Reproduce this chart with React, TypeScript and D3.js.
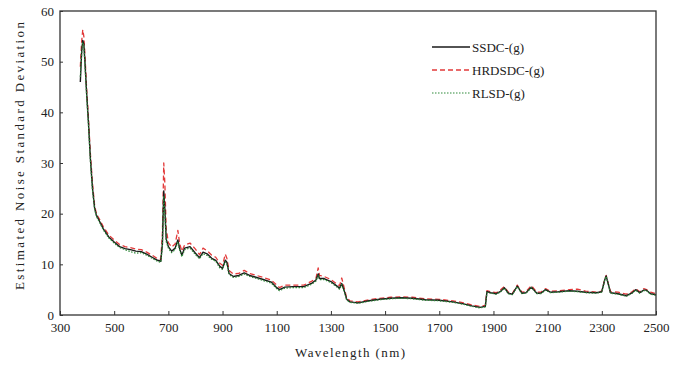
import React, { useEffect, useRef } from 'react';
import * as d3 from 'd3';

// wavelength (nm) sample points, shared by all three series
const wavelengths = [
  375, 380, 384, 388, 392, 398, 405, 412, 420, 428,
  435, 445, 460, 480, 500, 520, 540, 560, 580, 600,
  620, 640, 660, 672, 678, 683, 687, 692, 700, 712,
  725, 735, 742, 750, 760, 780, 800, 815, 828, 845,
  860, 875, 890, 900, 910, 916, 924, 940, 960, 980,
  1000, 1020, 1050, 1080, 1100, 1110, 1130, 1160, 1200, 1230,
  1245, 1253, 1258, 1275, 1300, 1320, 1332, 1340, 1348, 1358,
  1370, 1400, 1440, 1480, 1520, 1560, 1600, 1650, 1700, 1750,
  1790, 1820, 1850, 1870, 1876, 1890, 1910, 1925, 1940, 1955,
  1970, 1988, 2005, 2020, 2040, 2060, 2075, 2092, 2110, 2140,
  2180, 2210, 2240, 2280, 2300, 2310, 2316, 2322, 2332, 2360,
  2390, 2410, 2425, 2440, 2455, 2465, 2480, 2500,
];

const ssdc = [
  46, 52, 54.2, 53.5, 50, 44, 38, 31, 25, 21,
  19.6, 18.6, 17, 15.4, 14.4, 13.5, 13.1, 12.9, 12.6, 12.5,
  12, 11.4, 10.8, 10.6, 14, 24.5, 21, 15, 13.5, 12.6,
  13.2, 14.8, 13, 11.8, 13.2, 13.5, 12.2, 11.3, 12.4, 12,
  11.2, 10.8, 9.6, 9.2, 10.8, 10.4, 8.2, 7.6, 7.8, 8.3,
  7.8, 7.5, 7, 6.5, 5.4, 5, 5.5, 5.6, 5.6, 6.3,
  6.9, 8.1, 7.2, 7.2, 6.6, 5.8, 5.3, 6.2, 5, 3.1,
  2.6, 2.4, 2.8, 3.1, 3.3, 3.4, 3.3, 3, 2.9, 2.6,
  2.2, 1.8, 1.5, 1.7, 4.6, 4.4, 4.2, 4.6, 5.4, 4.3,
  4.1, 5.7, 4.3, 4.4, 5.5, 4.3, 4.3, 5, 4.5, 4.6,
  4.8, 4.7, 4.5, 4.4, 4.6, 6.8, 7.7, 6.5, 4.4, 4.2,
  3.8, 4.3, 5, 4.4, 4.9, 4.9, 4.2, 4,
];

const hrdsdc = [
  49, 54, 56.3, 55, 51.5, 45, 39, 32, 26, 21.5,
  19.9, 19, 17.4, 15.8, 14.8, 13.9, 13.5, 13.3, 13, 12.9,
  12.4, 11.8, 11.1, 11, 16, 30, 26, 17, 14.3, 13.4,
  14, 16.7, 14, 12.6, 13.8, 14.2, 13, 11.9, 13.2, 12.6,
  11.8, 11.4, 10.2, 9.8, 12, 11.2, 8.8, 8.1, 8.2, 8.8,
  8.2, 7.9, 7.4, 6.9, 5.9, 5.4, 5.9, 5.9, 5.9, 6.7,
  7.3, 9.3, 7.8, 7.6, 7, 6.2, 5.8, 7.3, 5.6, 3.4,
  2.8, 2.6, 3, 3.3, 3.5, 3.6, 3.5, 3.2, 3.1, 2.8,
  2.4, 2, 1.7, 1.9, 4.8, 4.6, 4.4, 4.9, 5.6, 4.5,
  4.3, 5.9, 4.5, 4.6, 5.8, 4.5, 4.5, 5.2, 4.7, 4.8,
  5, 5.1, 4.7, 4.5, 4.7, 6.9, 7.8, 6.6, 4.6, 4.5,
  4.1, 4.5, 5.2, 4.6, 5.2, 5, 4.5, 4.2,
];

const rlsd = [
  47, 51.5, 53.8, 53, 49.5, 43.5, 37.5, 30.5, 24.5, 20.8,
  19.4, 18.4, 16.8, 15.2, 14.2, 13.3, 12.9, 12.5, 12.2, 12.3,
  11.8, 11.2, 10.6, 10.4, 13.5, 23.5, 20, 14.5, 13.2, 12.3,
  12.9, 14.4, 12.7, 11.5, 12.9, 13.2, 11.9, 11.1, 12.1, 11.7,
  11, 10.6, 9.3, 9, 10.5, 10.1, 8, 7.4, 7.6, 8.1,
  7.6, 7.3, 6.8, 6.3, 5.2, 4.8, 5.3, 5.4, 5.4, 6.1,
  6.7, 7.8, 7, 7, 6.4, 5.6, 5.1, 6, 4.8, 3,
  2.5, 2.3, 2.7, 3, 3.2, 3.3, 3.2, 2.9, 2.8, 2.5,
  2.1, 1.7, 1.4, 1.6, 4.4, 4.3, 4.1, 4.5, 5.3, 4.2,
  4, 5.6, 4.2, 4.3, 5.4, 4.2, 4.2, 4.9, 4.4, 4.5,
  4.7, 4.6, 4.4, 4.3, 4.5, 6.7, 7.6, 6.4, 4.3, 4.1,
  3.7, 4.2, 4.9, 4.3, 4.8, 4.8, 4.1, 3.9,
];

const xTicks = [300, 500, 700, 900, 1100, 1300, 1500, 1700, 1900, 2100, 2300, 2500];
const yTicks = [0, 10, 20, 30, 40, 50, 60];

const seriesNames = ['SSDC-(g)', 'HRDSDC-(g)', 'RLSD-(g)'];

function App() {
  const svgRef = useRef<SVGSVGElement>(null);

  const width = 689;
  const height = 368;
  const marginLeft = 60;
  const marginRight = 33;
  const marginTop = 11;
  const marginBottom = 53;

  useEffect(() => {
    const svg = d3.select(svgRef.current);
    svg.selectAll('*').remove();

    const x = d3.scaleLinear().domain([300, 2500]).range([marginLeft, width - marginRight]);
    const y = d3.scaleLinear().domain([0, 60]).range([height - marginBottom, marginTop]);

    const font = 'Liberation Serif, Times New Roman, serif';
    const axisColor = '#333';

    // series drawn back to front: red, black, green dotted
    const styles = [
      { name: seriesNames[1], values: hrdsdc, color: '#e23a3a', dash: '5,3', w: 1.3 },
      { name: seriesNames[0], values: ssdc, color: '#1a1a1a', dash: null, w: 1.4 },
      { name: seriesNames[2], values: rlsd, color: '#2f8a3a', dash: '1.5,1.5', w: 1.2 },
    ];

    const line = d3.line<number>()
      .x((d, i) => x(wavelengths[i]))
      .y(d => y(d));

    styles.forEach(s => {
      svg.append('path')
        .attr('fill', 'none')
        .attr('stroke', s.color)
        .attr('stroke-width', s.w)
        .attr('stroke-dasharray', s.dash)
        .attr('stroke-linejoin', 'round')
        .attr('d', line(s.values));
    });

    // frame
    svg.append('rect')
      .attr('x', marginLeft)
      .attr('y', marginTop)
      .attr('width', width - marginLeft - marginRight)
      .attr('height', height - marginTop - marginBottom)
      .attr('fill', 'none')
      .attr('stroke', axisColor)
      .attr('stroke-width', 1.3);

    // bottom axis, inward ticks
    const xAxis = svg.append('g')
      .attr('transform', `translate(0,${height - marginBottom})`)
      .call(d3.axisBottom(x).tickValues(xTicks).tickSize(-4).tickPadding(8).tickFormat(d3.format('d')));
    xAxis.select('.domain').remove();
    xAxis.selectAll('.tick line').attr('stroke', axisColor);
    xAxis.selectAll('.tick text')
      .attr('font-family', font)
      .attr('font-size', 13)
      .attr('fill', '#222');

    // left axis
    const yAxis = svg.append('g')
      .attr('transform', `translate(${marginLeft},0)`)
      .call(d3.axisLeft(y).tickValues(yTicks).tickSize(-3).tickPadding(6));
    yAxis.select('.domain').remove();
    yAxis.selectAll('.tick line').attr('stroke', axisColor);
    yAxis.selectAll('.tick text')
      .attr('font-family', font)
      .attr('font-size', 13)
      .attr('fill', '#222');

    svg.append('text')
      .attr('x', 350)
      .attr('y', height - 11)
      .attr('text-anchor', 'middle')
      .attr('font-family', font)
      .attr('font-size', 13)
      .attr('fill', '#222')
      .attr('textLength', 110)
      .text('Wavelength (nm)');

    svg.append('text')
      .attr('transform', 'translate(24,156) rotate(-90)')
      .attr('text-anchor', 'middle')
      .attr('font-family', font)
      .attr('font-size', 13)
      .attr('fill', '#222')
      .attr('textLength', 268)
      .text('Estimated Noise Standard Deviation');

    // legend
    const legendItems = [styles[1], styles[0], styles[2]];
    const legend = svg.append('g').attr('transform', 'translate(432,47)');
    legendItems.forEach((s, i) => {
      legend.append('line')
        .attr('x1', 0)
        .attr('x2', 38)
        .attr('y1', i * 23)
        .attr('y2', i * 23)
        .attr('stroke', s.color)
        .attr('stroke-width', s.w)
        .attr('stroke-dasharray', s.dash);
      legend.append('text')
        .attr('x', 40)
        .attr('y', i * 23)
        .attr('dy', '0.35em')
        .attr('font-family', font)
        .attr('font-size', 13)
        .attr('fill', '#222')
        .text(s.name);
    });
  }, []);

  return (
    <div style={{ position: 'absolute', left: 0, top: 0 }}>
      <svg ref={svgRef} width={width} height={height} style={{ display: 'block', background: '#fff' }} />
    </div>
  );
}

export default App;
